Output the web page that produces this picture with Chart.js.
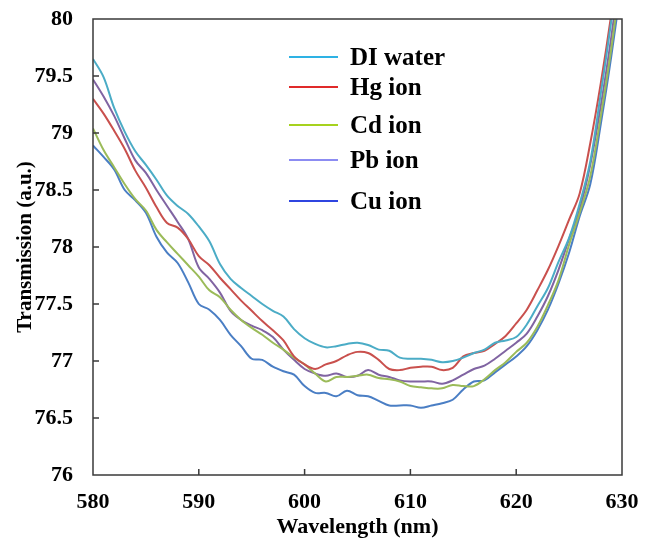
<!DOCTYPE html>
<html>
<head>
<meta charset="utf-8">
<script src="https://cdn.jsdelivr.net/npm/chart.js@4.4.0/dist/chart.umd.min.js"></script>
<style>
  html, body { margin: 0; padding: 0; background: #fff; }
  canvas { display: block; }
</style>
</head>
<body>
<canvas id="chart" width="650" height="539"></canvas>
<script>
const wavelengths = [580, 581, 582, 583, 584, 585, 586, 587, 588, 589,
                     590, 591, 592, 593, 594, 595, 596, 597, 598, 599,
                     600, 601, 602, 603, 604, 605, 606, 607, 608, 609,
                     610, 611, 612, 613, 614, 615, 616, 617, 618, 619,
                     620, 621, 622, 623, 624, 625, 626, 627, 628, 629, 630];

const diWater = [79.65, 79.49, 79.22, 79.01, 78.84, 78.72, 78.59, 78.45, 78.36, 78.29,
                 78.18, 78.05, 77.85, 77.72, 77.64, 77.57, 77.50, 77.44, 77.39, 77.28,
                 77.20, 77.15, 77.12, 77.13, 77.15, 77.16, 77.14, 77.10, 77.09, 77.03,
                 77.02, 77.02, 77.01, 76.99, 77.00, 77.03, 77.07, 77.10, 77.16, 77.18,
                 77.21, 77.32, 77.48, 77.64, 77.87, 78.08, 78.38, 78.75, 79.35, 79.99, 80.70];

const hgIon = [79.30, 79.17, 79.02, 78.86, 78.67, 78.52, 78.35, 78.21, 78.17, 78.07,
               77.92, 77.84, 77.73, 77.63, 77.53, 77.44, 77.35, 77.27, 77.18, 77.04,
               76.97, 76.93, 76.97, 77.00, 77.05, 77.08, 77.07, 77.01, 76.93, 76.92,
               76.94, 76.95, 76.95, 76.92, 76.94, 77.04, 77.07, 77.09, 77.15, 77.22,
               77.33, 77.45, 77.62, 77.80, 78.01, 78.24, 78.47, 78.91, 79.44, 80.05, 80.75];

const cdIon = [79.04, 78.85, 78.70, 78.55, 78.42, 78.32, 78.15, 78.04, 77.94, 77.84,
               77.74, 77.62, 77.56, 77.45, 77.36, 77.29, 77.23, 77.16, 77.10, 77.03,
               76.97, 76.89, 76.82, 76.86, 76.86, 76.87, 76.88, 76.85, 76.84, 76.82,
               76.78, 76.77, 76.76, 76.76, 76.79, 76.78, 76.78, 76.84, 76.92, 76.99,
               77.08, 77.16, 77.30, 77.49, 77.71, 78.02, 78.30, 78.62, 79.15, 79.75, 80.45];

const pbIon = [79.47, 79.32, 79.15, 78.95, 78.76, 78.65, 78.50, 78.36, 78.22, 78.07,
               77.82, 77.72, 77.60, 77.44, 77.36, 77.31, 77.27, 77.21, 77.10, 77.01,
               76.93, 76.89, 76.87, 76.89, 76.86, 76.87, 76.92, 76.88, 76.86, 76.83,
               76.82, 76.82, 76.82, 76.80, 76.83, 76.88, 76.93, 76.96, 77.02, 77.09,
               77.16, 77.24, 77.39, 77.57, 77.80, 78.07, 78.33, 78.72, 79.24, 79.85, 80.55];

const cuIon = [78.89, 78.79, 78.68, 78.50, 78.41, 78.30, 78.09, 77.95, 77.86, 77.69,
               77.50, 77.45, 77.36, 77.23, 77.13, 77.02, 77.01, 76.95, 76.91, 76.88,
               76.78, 76.72, 76.72, 76.69, 76.74, 76.70, 76.69, 76.65, 76.61, 76.61,
               76.61, 76.59, 76.61, 76.63, 76.66, 76.75, 76.82, 76.83, 76.90, 76.97,
               77.04, 77.13, 77.27, 77.45, 77.68, 77.95, 78.27, 78.55, 79.08, 79.68, 80.35];

const seriesNames = ['DI water', 'Hg ion', 'Cd ion', 'Pb ion', 'Cu ion'];
const seriesValues = [diWater, hgIon, cdIon, pbIon, cuIon];
const lineColors = ['#4bacc6', '#c9504d', '#9bbb59', '#8064a2', '#4a7ec4'];
const legendColors = ['#2eb2e4', '#e02a2a', '#a6d21e', '#8c8cf2', '#2f45e0'];

const serif = "'Liberation Serif', 'Times New Roman', serif";

// frame, inward tick marks and the legend box in the upper middle
const frameAndLegend = {
    id: 'frameAndLegend',
    afterDatasetsDraw(chart) {
        const { ctx, chartArea: a, scales: { x, y } } = chart;
        ctx.save();
        ctx.strokeStyle = '#3a3a3a';
        ctx.lineWidth = 1.5;
        ctx.beginPath();
        x.ticks.forEach(t => {
            if (t.value <= x.min || t.value >= x.max) return;
            const px = x.getPixelForValue(t.value);
            ctx.moveTo(px, a.bottom);
            ctx.lineTo(px, a.bottom - 6);
        });
        y.ticks.forEach(t => {
            if (t.value <= y.min || t.value >= y.max) return;
            const py = y.getPixelForValue(t.value);
            ctx.moveTo(a.left, py);
            ctx.lineTo(a.left + 6, py);
        });
        ctx.stroke();
        ctx.strokeRect(a.left, a.top, a.width, a.height);

        const rows = [57, 87, 125, 160, 201];
        ctx.font = 'bold 25px ' + serif;
        ctx.textBaseline = 'middle';
        ctx.fillStyle = '#000';
        ctx.lineWidth = 2;
        seriesNames.forEach((name, i) => {
            ctx.strokeStyle = legendColors[i];
            ctx.beginPath();
            ctx.moveTo(289, rows[i]);
            ctx.lineTo(338, rows[i]);
            ctx.stroke();
            ctx.fillText(name, 350, rows[i] + 2);
        });
        ctx.restore();
    }
};

const datasets = seriesNames.map((name, i) => ({
    label: name,
    data: wavelengths.map((w, j) => ({ x: w, y: seriesValues[i][j] })),
    borderColor: lineColors[i],
    backgroundColor: lineColors[i],
    borderWidth: 2,
    pointRadius: 0,
    tension: 0.35,
    fill: false
}));

new Chart(document.getElementById('chart'), {
    type: 'line',
    data: { datasets: datasets },
    options: {
        responsive: false,
        animation: false,
        layout: { padding: { top: 19, right: 28, left: 0, bottom: 0 } },
        plugins: {
            legend: { display: false },
            tooltip: { enabled: false }
        },
        scales: {
            x: {
                type: 'linear',
                min: 580,
                max: 630,
                afterFit: scale => {
                    scale.height = 64;
                    scale.paddingLeft = 0;
                    scale.paddingRight = 0;
                },
                grid: { display: false, drawTicks: false },
                border: { display: false },
                ticks: {
                    stepSize: 10,
                    padding: 14,
                    color: '#000',
                    font: { family: serif, size: 22, weight: 'bold' }
                },
                title: {
                    display: true,
                    text: 'Wavelength (nm)',
                    color: '#000',
                    padding: { top: 0, bottom: 1 },
                    font: { family: serif, size: 22, weight: 'bold', lineHeight: 1 }
                }
            },
            y: {
                min: 76,
                max: 80,
                afterFit: scale => {
                    scale.width = 93;
                    scale.paddingTop = 0;
                    scale.paddingBottom = 0;
                },
                grid: { display: false, drawTicks: false },
                border: { display: false },
                ticks: {
                    stepSize: 0.5,
                    padding: 20,
                    color: '#000',
                    callback: v => String(Math.round(v * 10) / 10),
                    font: { family: serif, size: 22, weight: 'bold' }
                },
                title: {
                    display: true,
                    text: 'Transmission (a.u.)',
                    color: '#000',
                    padding: { top: 15, bottom: 0 },
                    font: { family: serif, size: 21, weight: 'bold', lineHeight: 1 }
                }
            }
        }
    },
    plugins: [frameAndLegend]
});
</script>
</body>
</html>
